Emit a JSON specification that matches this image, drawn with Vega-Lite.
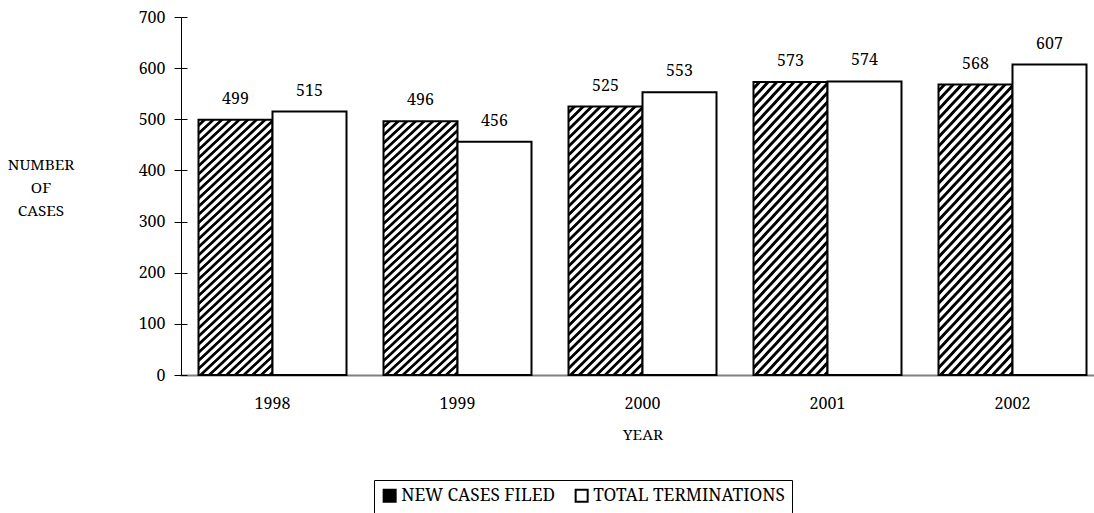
{
  "$schema": "https://vega.github.io/schema/vega-lite/v6.json",
  "width": 913,
  "height": 358,
  "autosize": {"type": "none"},
  "padding": {"left": 181, "top": 17, "right": 0, "bottom": 138},
  "background": "white",
  "config": {"font": "Noto Serif", "view": {"stroke": null}},
  "data": {
    "values": [
      {"year": "1998", "type": "NEW CASES FILED", "value": 499},
      {"year": "1998", "type": "TOTAL TERMINATIONS", "value": 515},
      {"year": "1999", "type": "NEW CASES FILED", "value": 496},
      {"year": "1999", "type": "TOTAL TERMINATIONS", "value": 456},
      {"year": "2000", "type": "NEW CASES FILED", "value": 525},
      {"year": "2000", "type": "TOTAL TERMINATIONS", "value": 553},
      {"year": "2001", "type": "NEW CASES FILED", "value": 573},
      {"year": "2001", "type": "TOTAL TERMINATIONS", "value": 574},
      {"year": "2002", "type": "NEW CASES FILED", "value": 568},
      {"year": "2002", "type": "TOTAL TERMINATIONS", "value": 607}
    ]
  },
  "resolve": {"axis": {"y": "independent"}},
  "layer": [
    {
      "mark": {"type": "bar", "stroke": "black", "strokeWidth": 2},
      "encoding": {
        "x": {
          "field": "year",
          "type": "nominal",
          "scale": {"range": [-1, 924], "paddingInner": 0.2, "paddingOuter": 0.1},
          "axis": {
            "title": "YEAR",
            "labelAngle": 0,
            "ticks": false,
            "domainColor": "#808080",
            "domainWidth": 2,
            "labelFont": "Noto Serif",
            "labelFontSize": 16,
            "labelColor": "black",
            "labelPadding": 28,
            "labelBaseline": "middle",
            "titleFont": "Noto Serif",
            "titleFontSize": 15.3,
            "titleFontWeight": "normal",
            "titleColor": "black",
            "titleY": 59,
            "titleBaseline": "middle"
          }
        },
        "xOffset": {
          "field": "type",
          "type": "nominal",
          "sort": ["NEW CASES FILED", "TOTAL TERMINATIONS"],
          "scale": {"paddingInner": 0, "paddingOuter": 0}
        },
        "y": {
          "field": "value",
          "type": "quantitative",
          "scale": {"domain": [0, 700], "nice": false},
          "axis": {
            "orient": "left",
            "values": [0, 100, 200, 300, 400, 500, 600, 700],
            "grid": false,
            "domainColor": "black",
            "domainWidth": 1,
            "tickColor": "black",
            "tickSize": 7,
            "labelFont": "Noto Serif",
            "labelFontSize": 16,
            "labelColor": "black",
            "labelPadding": 9,
            "title": ["NUMBER", "OF", "CASES"],
            "titleAngle": 0,
            "titleAlign": "center",
            "titleBaseline": "middle",
            "titleX": -140.5,
            "titleY": 147,
            "titleFont": "Noto Serif",
            "titleFontSize": 15.3,
            "titleFontWeight": "normal",
            "titleColor": "black",
            "titleLineHeight": 23
          }
        },
        "fill": {
          "field": "type",
          "type": "nominal",
          "scale": {"domain": ["NEW CASES FILED", "TOTAL TERMINATIONS"], "range": ["black", "white"]},
          "condition": {
            "test": "datum.type === 'NEW CASES FILED'",
            "value": {
              "gradient": "linear",
              "x1": 0, "y1": 0, "x2": 0.322, "y2": 1.184,
              "stops": [
                {"offset": 0, "color": "#fff"}, {"offset": 0.01, "color": "#fff"}, {"offset": 0.0135, "color": "#000"}, {"offset": 0.0215, "color": "#000"},
                {"offset": 0.025, "color": "#fff"}, {"offset": 0.035, "color": "#fff"}, {"offset": 0.0385, "color": "#000"}, {"offset": 0.0465, "color": "#000"},
                {"offset": 0.05, "color": "#fff"}, {"offset": 0.06, "color": "#fff"}, {"offset": 0.0635, "color": "#000"}, {"offset": 0.0715, "color": "#000"},
                {"offset": 0.075, "color": "#fff"}, {"offset": 0.085, "color": "#fff"}, {"offset": 0.0885, "color": "#000"}, {"offset": 0.0965, "color": "#000"},
                {"offset": 0.1, "color": "#fff"}, {"offset": 0.11, "color": "#fff"}, {"offset": 0.1135, "color": "#000"}, {"offset": 0.1215, "color": "#000"},
                {"offset": 0.125, "color": "#fff"}, {"offset": 0.135, "color": "#fff"}, {"offset": 0.1385, "color": "#000"}, {"offset": 0.1465, "color": "#000"},
                {"offset": 0.15, "color": "#fff"}, {"offset": 0.16, "color": "#fff"}, {"offset": 0.1635, "color": "#000"}, {"offset": 0.1715, "color": "#000"},
                {"offset": 0.175, "color": "#fff"}, {"offset": 0.185, "color": "#fff"}, {"offset": 0.1885, "color": "#000"}, {"offset": 0.1965, "color": "#000"},
                {"offset": 0.2, "color": "#fff"}, {"offset": 0.21, "color": "#fff"}, {"offset": 0.2135, "color": "#000"}, {"offset": 0.2215, "color": "#000"},
                {"offset": 0.225, "color": "#fff"}, {"offset": 0.235, "color": "#fff"}, {"offset": 0.2385, "color": "#000"}, {"offset": 0.2465, "color": "#000"},
                {"offset": 0.25, "color": "#fff"}, {"offset": 0.26, "color": "#fff"}, {"offset": 0.2635, "color": "#000"}, {"offset": 0.2715, "color": "#000"},
                {"offset": 0.275, "color": "#fff"}, {"offset": 0.285, "color": "#fff"}, {"offset": 0.2885, "color": "#000"}, {"offset": 0.2965, "color": "#000"},
                {"offset": 0.3, "color": "#fff"}, {"offset": 0.31, "color": "#fff"}, {"offset": 0.3135, "color": "#000"}, {"offset": 0.3215, "color": "#000"},
                {"offset": 0.325, "color": "#fff"}, {"offset": 0.335, "color": "#fff"}, {"offset": 0.3385, "color": "#000"}, {"offset": 0.3465, "color": "#000"},
                {"offset": 0.35, "color": "#fff"}, {"offset": 0.36, "color": "#fff"}, {"offset": 0.3635, "color": "#000"}, {"offset": 0.3715, "color": "#000"},
                {"offset": 0.375, "color": "#fff"}, {"offset": 0.385, "color": "#fff"}, {"offset": 0.3885, "color": "#000"}, {"offset": 0.3965, "color": "#000"},
                {"offset": 0.4, "color": "#fff"}, {"offset": 0.41, "color": "#fff"}, {"offset": 0.4135, "color": "#000"}, {"offset": 0.4215, "color": "#000"},
                {"offset": 0.425, "color": "#fff"}, {"offset": 0.435, "color": "#fff"}, {"offset": 0.4385, "color": "#000"}, {"offset": 0.4465, "color": "#000"},
                {"offset": 0.45, "color": "#fff"}, {"offset": 0.46, "color": "#fff"}, {"offset": 0.4635, "color": "#000"}, {"offset": 0.4715, "color": "#000"},
                {"offset": 0.475, "color": "#fff"}, {"offset": 0.485, "color": "#fff"}, {"offset": 0.4885, "color": "#000"}, {"offset": 0.4965, "color": "#000"},
                {"offset": 0.5, "color": "#fff"}, {"offset": 0.51, "color": "#fff"}, {"offset": 0.5135, "color": "#000"}, {"offset": 0.5215, "color": "#000"},
                {"offset": 0.525, "color": "#fff"}, {"offset": 0.535, "color": "#fff"}, {"offset": 0.5385, "color": "#000"}, {"offset": 0.5465, "color": "#000"},
                {"offset": 0.55, "color": "#fff"}, {"offset": 0.56, "color": "#fff"}, {"offset": 0.5635, "color": "#000"}, {"offset": 0.5715, "color": "#000"},
                {"offset": 0.575, "color": "#fff"}, {"offset": 0.585, "color": "#fff"}, {"offset": 0.5885, "color": "#000"}, {"offset": 0.5965, "color": "#000"},
                {"offset": 0.6, "color": "#fff"}, {"offset": 0.61, "color": "#fff"}, {"offset": 0.6135, "color": "#000"}, {"offset": 0.6215, "color": "#000"},
                {"offset": 0.625, "color": "#fff"}, {"offset": 0.635, "color": "#fff"}, {"offset": 0.6385, "color": "#000"}, {"offset": 0.6465, "color": "#000"},
                {"offset": 0.65, "color": "#fff"}, {"offset": 0.66, "color": "#fff"}, {"offset": 0.6635, "color": "#000"}, {"offset": 0.6715, "color": "#000"},
                {"offset": 0.675, "color": "#fff"}, {"offset": 0.685, "color": "#fff"}, {"offset": 0.6885, "color": "#000"}, {"offset": 0.6965, "color": "#000"},
                {"offset": 0.7, "color": "#fff"}, {"offset": 0.71, "color": "#fff"}, {"offset": 0.7135, "color": "#000"}, {"offset": 0.7215, "color": "#000"},
                {"offset": 0.725, "color": "#fff"}, {"offset": 0.735, "color": "#fff"}, {"offset": 0.7385, "color": "#000"}, {"offset": 0.7465, "color": "#000"},
                {"offset": 0.75, "color": "#fff"}, {"offset": 0.76, "color": "#fff"}, {"offset": 0.7635, "color": "#000"}, {"offset": 0.7715, "color": "#000"},
                {"offset": 0.775, "color": "#fff"}, {"offset": 0.785, "color": "#fff"}, {"offset": 0.7885, "color": "#000"}, {"offset": 0.7965, "color": "#000"},
                {"offset": 0.8, "color": "#fff"}, {"offset": 0.81, "color": "#fff"}, {"offset": 0.8135, "color": "#000"}, {"offset": 0.8215, "color": "#000"},
                {"offset": 0.825, "color": "#fff"}, {"offset": 0.835, "color": "#fff"}, {"offset": 0.8385, "color": "#000"}, {"offset": 0.8465, "color": "#000"},
                {"offset": 0.85, "color": "#fff"}, {"offset": 0.86, "color": "#fff"}, {"offset": 0.8635, "color": "#000"}, {"offset": 0.8715, "color": "#000"},
                {"offset": 0.875, "color": "#fff"}, {"offset": 0.885, "color": "#fff"}, {"offset": 0.8885, "color": "#000"}, {"offset": 0.8965, "color": "#000"},
                {"offset": 0.9, "color": "#fff"}, {"offset": 0.91, "color": "#fff"}, {"offset": 0.9135, "color": "#000"}, {"offset": 0.9215, "color": "#000"},
                {"offset": 0.925, "color": "#fff"}, {"offset": 0.935, "color": "#fff"}, {"offset": 0.9385, "color": "#000"}, {"offset": 0.9465, "color": "#000"},
                {"offset": 0.95, "color": "#fff"}, {"offset": 0.96, "color": "#fff"}, {"offset": 0.9635, "color": "#000"}, {"offset": 0.9715, "color": "#000"},
                {"offset": 0.975, "color": "#fff"}, {"offset": 0.985, "color": "#fff"}, {"offset": 0.9885, "color": "#000"}, {"offset": 0.9965, "color": "#000"},
                {"offset": 1, "color": "#fff"}
              ]
            }
          },
          "legend": {
            "title": null,
            "orient": "none",
            "legendX": 193,
            "legendY": 463,
            "direction": "horizontal",
            "strokeColor": "black",
            "padding": 7,
            "symbolType": "square",
            "symbolSize": 144,
            "symbolStrokeColor": "black",
            "symbolStrokeWidth": 2,
            "labelFont": "Noto Serif",
            "labelFontSize": 17.3,
            "labelColor": "black",
            "labelOffset": 3,
            "labelLimit": 400,
            "columnPadding": 16,
            "encoding": {
              "symbols": {
                "stroke": {"value": "black"},
                "strokeWidth": {"value": 2}
              }
            }
          }
        }
      }
    },
    {
      "mark": {"type": "text", "font": "Noto Serif", "fontSize": 16, "baseline": "alphabetic", "dy": -16, "color": "black"},
      "encoding": {
        "x": {"field": "year", "type": "nominal"},
        "xOffset": {"field": "type", "type": "nominal", "sort": ["NEW CASES FILED", "TOTAL TERMINATIONS"]},
        "y": {
          "field": "value",
          "type": "quantitative",
          "axis": {
            "orient": "left",
            "values": [0, 100, 200, 300, 400, 500, 600, 700],
            "grid": false,
            "domain": false,
            "labels": false,
            "tickColor": "black",
            "tickSize": 6,
            "offset": -6,
            "title": null
          }
        },
        "text": {"field": "value", "type": "quantitative"}
      }
    }
  ]
}
